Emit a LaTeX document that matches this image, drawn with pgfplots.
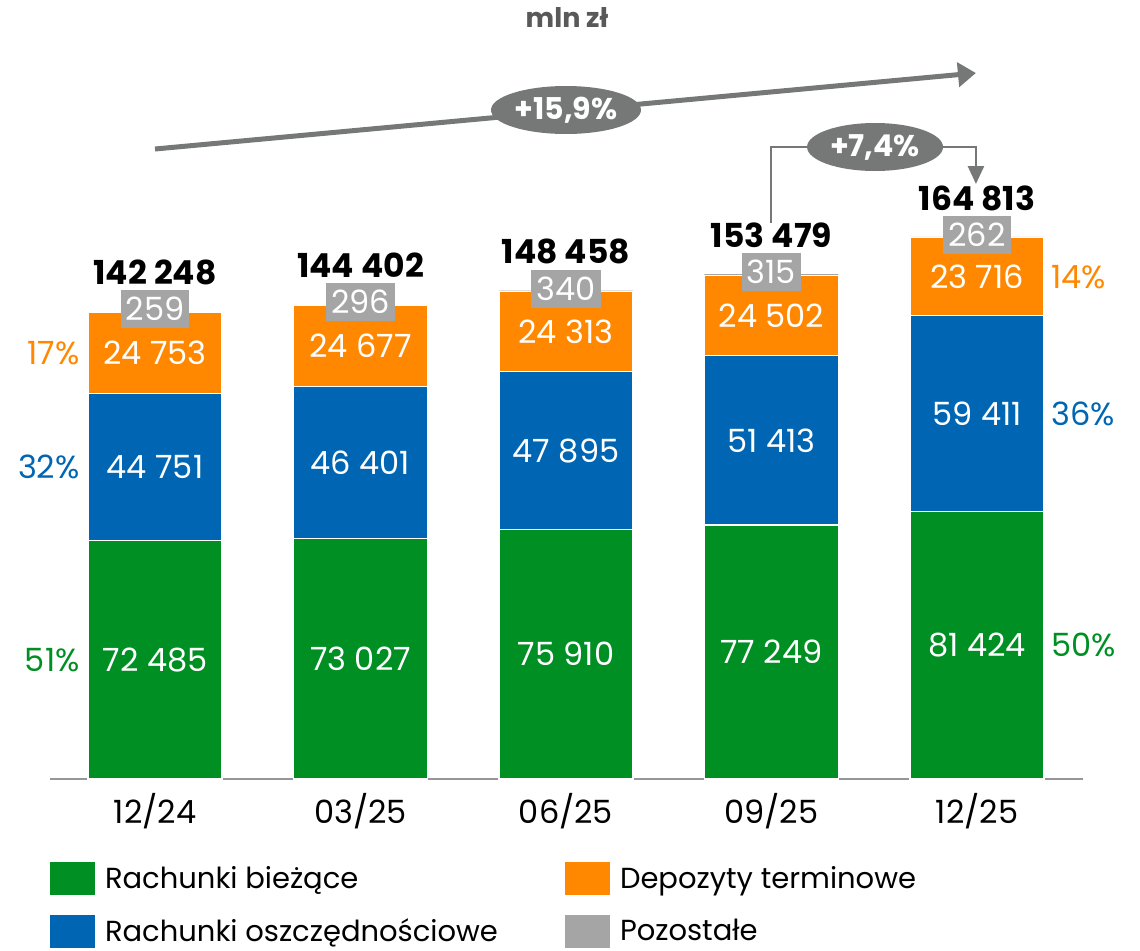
\documentclass[border=0pt]{standalone}
\usepackage{pgfplots}
\pgfplotsset{compat=1.18}
\usepackage{fontspec}
\setmainfont{Poppins}
\usetikzlibrary{arrows.meta,shapes.geometric}
\definecolor{cgreen}{RGB}{0,143,35}
\definecolor{cblue}{RGB}{0,102,179}
\definecolor{corange}{RGB}{255,136,0}
\definecolor{cgray}{RGB}{165,165,165}
\definecolor{carrow}{RGB}{118,120,120}
\definecolor{caxis}{RGB}{150,150,150}
\definecolor{ctitle}{RGB}{89,89,89}
\newcommand\lab{\fontsize{16}{19}\selectfont}
\newcommand\pct{\fontsize{16}{19}\selectfont}
\pgfplotsset{
 base/.style={scale only axis, width=516.5pt, height=389.5pt, xmin=-0.511, xmax=4.516,
   ymin=0, ymax=236847, clip=false, at={(0,0)}, anchor=south west},
 sq/.style={legend image code/.code={\path[##1,draw=none] (0pt,-8.25pt) rectangle (22.5pt,8.25pt);}},
 lbl/.style={draw=none, mark=none, point meta=explicit symbolic, nodes near coords,
   nodes near coords style={anchor=center, font=\lab, text=white, inner sep=0pt}},
}
\begin{document}
\begin{tikzpicture}
\begin{axis}[base, ybar stacked, bar width=0.652,
  axis x line*=bottom, axis y line=none,
  x axis line style={caxis, line width=1pt},
  xtick={0,1,2,3,4}, xticklabels={12/24,03/25,06/25,09/25,12/25},
  major tick length=0pt,
  xticklabel style={font=\lab, yshift=-3.5pt},
  legend columns=2, transpose legend,
  legend cell align=left,
  legend style={at={(0,0)}, anchor=north west, yshift=-41.5pt, draw=none, fill=none,
    inner sep=0pt, outer sep=0pt, row sep=10pt, font=\fontsize{14.5}{17}\selectfont,
    nodes={inner sep=0pt},
    /tikz/every odd column/.style={column sep=5pt},
    /tikz/every even column/.style={column sep=0pt}},
]
\addplot[sq, fill=cgreen, draw=white, line width=0.6pt] coordinates {(0,72485) (1,73027) (2,75910) (3,77249) (4,81424)};
\addlegendentry{\makebox[230pt][l]{Rachunki bieżące}}
\addplot[sq, fill=cblue, draw=white, line width=0.6pt] coordinates {(0,44751) (1,46401) (2,47895) (3,51413) (4,59411)};
\addlegendentry{\makebox[230pt][l]{Rachunki oszczędnościowe}}
\addplot[sq, fill=corange, draw=white, line width=0.6pt] coordinates {(0,24753) (1,24677) (2,24313) (3,24502) (4,23716)};
\addlegendentry{Depozyty terminowe}
\addplot[sq, fill=cgray, draw=none] coordinates {(0,259) (1,296) (2,340) (3,315) (4,262)};
\addlegendentry{Pozostałe}

% growth arrows
\draw[carrow, line width=2.5pt, -{Triangle[length=9pt,width=12pt]}] (axis cs:0,191545) -- (axis cs:3.995,214652);
\draw[carrow, line width=1.3pt] (axis cs:2.998,169046) |- (axis cs:3.504,192153);
\draw[carrow, line width=1.3pt, -{Triangle[length=9pt,width=8pt]}] (axis cs:3.504,192153) -| (axis cs:3.995,180904);
\end{axis}

\begin{axis}[base, hide axis]
% segment values
\addplot[lbl] coordinates {
 (0,36242.5) [72 485] (1,36513.5) [73 027] (2,37955) [75 910] (3,38624.5) [77 249] (4,40712) [81 424]
 (0,94860.5) [44 751] (1,96227.5) [46 401] (2,99857.5) [47 895] (3,102955.5) [51 413] (4,111129.5) [59 411]
 (0,129612.5) [24 753] (1,131766.5) [24 677] (2,135961.5) [24 313] (3,140913) [24 502] (4,152693) [23 716]
};
% other (gray boxes)
\addplot[lbl, nodes near coords style={fill=cgray, inner xsep=2.5pt, minimum height=19pt, yshift=1pt}] coordinates {
 (0,142248) [259] (1,144402) [296] (2,148458) [340] (3,153479) [315] (4,164813) [262]
};
% totals
\addplot[lbl, nodes near coords style={text=black, font=\bfseries\fontsize{16.5}{19}\selectfont, yshift=19.5pt}] coordinates {
 (0,142248) [142 248] (1,144402) [144 402] (2,148458) [148 458] (3,153479) [153 479] (4,164813) [164 813]
};
% shares left
\addplot[lbl, nodes near coords style={text=cgreen, font=\pct, anchor=east, xshift=-4pt}] coordinates {(-0.326,36242.5) [51\%]};
\addplot[lbl, nodes near coords style={text=cblue, font=\pct, anchor=east, xshift=-4pt}] coordinates {(-0.326,94860.5) [32\%]};
\addplot[lbl, nodes near coords style={text=corange, font=\pct, anchor=east, xshift=-4pt}] coordinates {(-0.326,129612.5) [17\%]};
% shares right
\addplot[lbl, nodes near coords style={text=cgreen, font=\pct, anchor=west, xshift=3.5pt}] coordinates {(4.326,40712) [50\%]};
\addplot[lbl, nodes near coords style={text=cblue, font=\pct, anchor=west, xshift=3.5pt}] coordinates {(4.326,111129.5) [36\%]};
\addplot[lbl, nodes near coords style={text=corange, font=\pct, anchor=west, xshift=3.5pt}] coordinates {(4.326,152693) [14\%]};
% growth labels
\node[ellipse, fill=carrow, minimum width=75pt, minimum height=24pt, inner sep=0pt, text=white, font=\bfseries\fontsize{15}{18}\selectfont] at (axis cs:2.0,203403) {+15,9\%};
\node[ellipse, fill=carrow, minimum width=68pt, minimum height=24pt, inner sep=0pt, text=white, font=\bfseries\fontsize{15}{18}\selectfont] at (axis cs:3.504,192153) {+7,4\%};
\node[text=ctitle, font=\bfseries\fontsize{13.5}{16}\selectfont] at (axis cs:2.005,231374) {mln zł};
\end{axis}
\pgfresetboundingbox
\useasboundingbox (-25pt,-85.5pt) rectangle (545pt,389.5pt);
\end{tikzpicture}
\end{document}
